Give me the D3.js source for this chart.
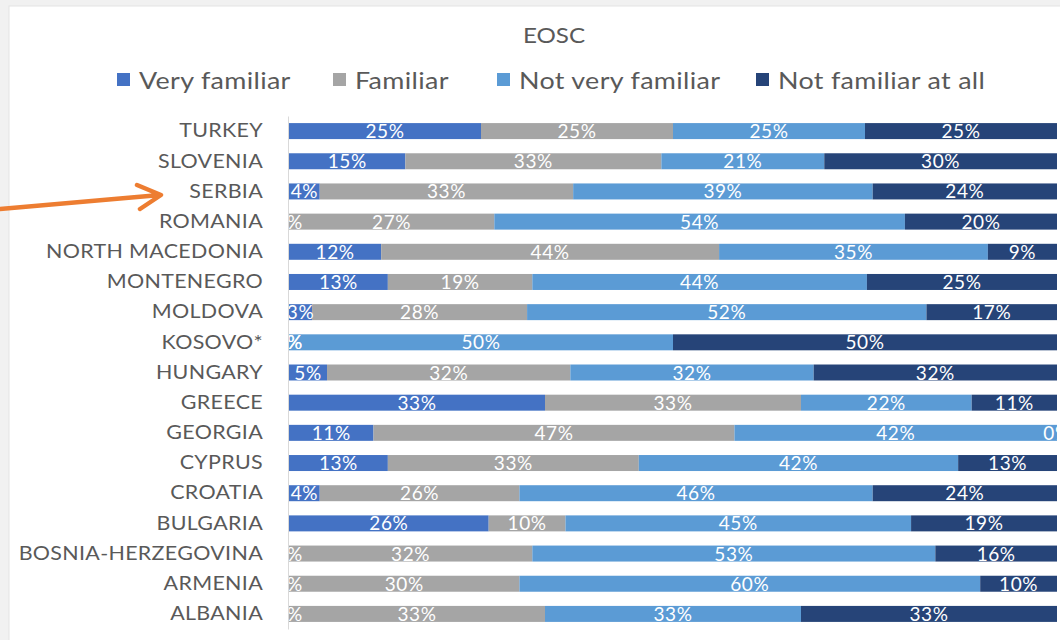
<!DOCTYPE html>
<html>
<head>
<meta charset="utf-8">
<script src="https://cdn.jsdelivr.net/npm/d3@7"></script>
<style>
  body { margin: 0; background: #f1f1f1; }
  svg { display: block; font-family: Lato, "Open Sans", sans-serif; }
</style>
</head>
<body>
<div id="chart"></div>
<script>
// Chart size
const width = 1060;
const height = 640;
const margin = {left: 289, right: 3, top: 116, bottom: 11};
const stretch = 1.1; // the reference text looks a bit wide

// Data (percent shown on each segment)
const countries = ["TURKEY", "SLOVENIA", "SERBIA", "ROMANIA", "NORTH MACEDONIA", "MONTENEGRO",
  "MOLDOVA", "KOSOVO*", "HUNGARY", "GREECE", "GEORGIA", "CYPRUS", "CROATIA", "BULGARIA",
  "BOSNIA-HERZEGOVINA", "ARMENIA", "ALBANIA"];
const seriesNames = ["Very familiar", "Familiar", "Not very familiar", "Not familiar at all"];
const veryFamiliar    = [25, 15,  4,  0, 12, 13,  3,  0,  5, 33, 11, 13,  4, 26,  0,  0,  0];
const familiar        = [25, 33, 33, 27, 44, 19, 28,  0, 32, 33, 47, 33, 26, 10, 32, 30, 33];
const notVeryFamiliar = [25, 21, 39, 54, 35, 44, 52, 50, 32, 22, 42, 42, 46, 45, 53, 60, 33];
const notFamiliarAll  = [25, 30, 24, 20,  9, 25, 17, 50, 32, 11,  0, 13, 24, 19, 16, 10, 33];
const colors = ["#4472c4", "#a5a5a5", "#5b9bd5", "#264478"];

// build rows for d3.stack
const rows = countries.map((c, i) => ({
  country: c,
  "Very familiar": veryFamiliar[i],
  "Familiar": familiar[i],
  "Not very familiar": notVeryFamiliar[i],
  "Not familiar at all": notFamiliarAll[i]
}));

const svg = d3.select("#chart")
  .append("svg")
  .attr("width", width)
  .attr("height", height);

// white chart area with a light frame
svg.append("rect")
  .attr("x", 9).attr("y", 6)
  .attr("width", width).attr("height", height)
  .attr("fill", "#ffffff")
  .attr("stroke", "#e3e3e3");

// title
svg.append("text")
  .attr("transform", `translate(554,43) scale(${stretch},1)`)
  .attr("text-anchor", "middle")
  .attr("font-size", 22)
  .attr("fill", "#595959")
  .text("EOSC");

// legend
const legendX = [117, 333, 497, 756];
const legend = svg.append("g").selectAll("g")
  .data(seriesNames)
  .join("g")
  .attr("transform", (d, i) => `translate(${legendX[i]},80)`);
legend.append("rect")
  .attr("x", 0).attr("y", -7)
  .attr("width", 13).attr("height", 13)
  .attr("fill", (d, i) => colors[i]);
legend.append("text")
  .attr("transform", "translate(22,8.5) scale(1.12,1)")
  .attr("font-size", 24)
  .attr("letter-spacing", 0.3)
  .attr("fill", "#595959")
  .text(d => d);

// stacked (100%) layout
const stack = d3.stack()
  .keys(seriesNames)
  .offset(d3.stackOffsetExpand);
const series = stack(rows);

const xScale = d3.scaleLinear()
  .domain([0, 1])
  .range([margin.left, width - margin.right]);

const yScale = d3.scaleBand()
  .domain(countries)
  .range([margin.top, height - margin.bottom])
  .paddingInner(0.47)
  .paddingOuter(0.235);

// y axis: labels only, with a thin line
const yAxis = svg.append("g")
  .attr("transform", `translate(${margin.left - 1},0)`)
  .call(d3.axisLeft(yScale).tickSize(0).tickPadding(25));
yAxis.select(".domain").attr("stroke", "#d9d9d9");
yAxis.selectAll("text")
  .attr("x", -25 / stretch)
  .attr("transform", `scale(${stretch},1)`)
  .attr("font-size", 19.5)
  .attr("letter-spacing", 0.3)
  .attr("font-family", "Lato, sans-serif")
  .attr("fill", "#595959");

// bars
const layers = svg.append("g").selectAll("g")
  .data(series)
  .join("g")
  .attr("fill", (d, i) => colors[i]);
layers.selectAll("rect")
  .data(d => d)
  .join("rect")
  .attr("x", d => xScale(d[0]))
  .attr("y", d => yScale(d.data.country))
  .attr("width", d => xScale(d[1]) - xScale(d[0]))
  .attr("height", yScale.bandwidth());

// data labels, clipped to the plot area on the left
svg.append("clipPath").attr("id", "plot-clip")
  .append("rect")
  .attr("x", margin.left).attr("y", 0)
  .attr("width", width).attr("height", height);

const labels = svg.append("g").attr("clip-path", "url(#plot-clip)");
series.forEach((s) => {
  labels.selectAll(null)
    .data(s)
    .join("text")
    .attr("x", d => (xScale(d[0]) + xScale(d[1])) / 2)
    .attr("y", d => yScale(d.data.country) + yScale.bandwidth() / 2 + 7)
    .attr("text-anchor", "middle")
    .attr("font-size", 19)
    .attr("letter-spacing", 0.6)
    .attr("fill", "#ffffff")
    .text(d => d.data[s.key] + "%");
});

// orange annotation arrow pointing at SERBIA
svg.append("path")
  .attr("d", "M0,209 L160,195 M137,185 L161,195 L140,209")
  .attr("fill", "none")
  .attr("stroke", "#ed7d31")
  .attr("stroke-width", 4.5)
  .attr("stroke-linecap", "round")
  .attr("stroke-linejoin", "round");
</script>
</body>
</html>
